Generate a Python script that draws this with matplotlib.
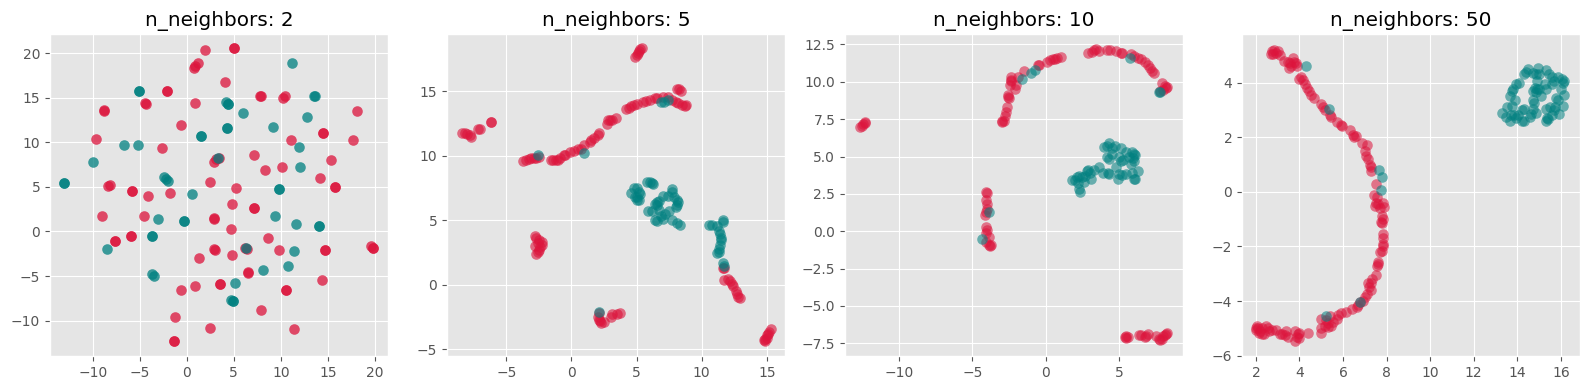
import numpy as np
import matplotlib
matplotlib.use("Agg")
import matplotlib.pyplot as plt

plt.style.use('ggplot')

titles = ['n_neighbors: 2', 'n_neighbors: 5', 'n_neighbors: 10', 'n_neighbors: 50']

# panel 1, points that look denser are listed twice
red_2 = [(1.93,20.4),(5.05,20.56),(5.05,20.56),(1.25,18.88),(0.9,18.6),(0.72,18.4),(4.02,16.8),(-2.12,15.73),(-2.12,15.73),
         (-4.39,14.4),(-4.3,14.35),(-8.83,13.6),(-8.75,13.55),(0.93,14.45),(7.8,15.25),(7.85,15.2),(10.5,15.17),(10.27,15.0),
         (18.08,13.5),(-0.63,11.95),(14.5,11.1),(14.5,11.1),(-9.6,10.37),(-2.6,9.33),(11.05,10.26),(17.65,10.3),(7.15,8.54),
         (3.38,8.3),(3.13,8.1),(2.88,7.8),(8.35,6.93),(10.16,7.23),(15.3,8.05),(14.17,6.0),(15.8,5.0),(15.8,5.0),(2.46,5.54),
         (5.2,4.87),(-8.15,5.17),(-8.33,5.05),(-5.85,4.57),(-5.85,4.57),(-4.07,3.97),(-1.76,4.27),(4.8,3.1),(7.15,2.66),(7.15,2.66),
         (-9.0,1.72),(-4.5,1.72),(2.85,1.46),(2.95,1.4),(4.66,0.26),(8.64,-0.71),(-7.59,-1.09),(-7.59,-1.09),(-5.92,-0.56),(-5.92,-0.56),
         (2.85,-1.98),(3.0,-2.13),(4.8,-2.66),(6.22,-1.87),(6.4,-2.02),(9.84,-2.1),(14.74,-2.06),(14.74,-2.06),(19.54,-1.6),(19.82,-1.8),
         (19.82,-1.8),(1.29,-3.0),(6.47,-4.6),(6.55,-4.65),(14.42,-5.5),(3.56,-5.92),(3.56,-5.92),(-0.63,-6.55),(0.83,-6.1),(10.6,-6.6),
         (10.6,-6.6),(7.85,-8.84),(-1.2,-9.63),(2.5,-10.8),(11.44,-11.0),(-1.37,-12.35),(-1.37,-12.35)]
teal_2 = [(11.2,18.88),(-5.03,15.8),(-5.03,15.8),(13.54,15.2),(13.6,15.25),(4.2,14.5),(4.41,14.35),(4.41,14.35),(6.0,13.33),(12.8,12.8),
          (9.13,11.72),(4.24,11.6),(4.24,11.6),(1.54,10.7),(1.54,10.7),(11.97,9.48),(-6.7,9.66),(-5.17,9.66),(-9.93,7.83),(3.35,8.28),
          (12.05,7.23),(-2.44,6.07),(-2.23,5.88),(-1.94,5.62),(-13.0,5.4),(-13.0,5.4),(9.8,4.72),(9.8,4.72),(0.54,4.2),(-3.08,1.42),
          (-0.27,1.2),(-0.27,1.2),(9.35,1.72),(11.65,0.79),(14.03,0.56),(14.03,0.56),(-3.65,-0.52),(-3.65,-0.52),(-8.5,-1.98),(11.4,-2.17),
          (6.3,-1.9),(8.1,-4.34),(10.73,-3.93),(-3.65,-4.8),(-3.43,-4.95),(5.12,-5.73),(4.73,-7.68),(4.87,-7.86),(4.87,-7.86)]

red_5 = [(4.9,17.7),(5.0,17.85),(5.1,18.0),(5.2,18.15),(5.3,18.25),(5.45,18.4),(-8.4,11.75),(-8.2,11.8),(-8.0,11.7),(-7.8,11.6),(-7.75,11.45),
         (-7.2,12.05),(-7.05,12.1),(-6.2,12.6),(-6.15,12.65),(-3.7,9.6),(-3.5,9.65),(-3.3,9.75),(-3.1,9.8),(-2.9,9.8),(-2.7,9.85),(-2.5,9.9),
         (-1.6,9.65),(-1.4,9.7),(-1.2,9.65),(-1.0,9.7),(-0.85,9.8),(-0.6,10.05),(-0.5,10.1),(-0.1,10.3),(0.2,10.35),(0.5,10.5),(0.7,10.55),
         (1.0,10.85),(1.4,11.1),(1.5,11.2),(1.7,11.4),(2.0,11.65),(2.1,11.8),(2.7,12.45),(2.8,12.75),(2.95,12.8),(3.1,12.75),(3.4,12.9),
         (4.2,13.6),(4.4,13.7),(4.6,13.85),(4.8,13.95),(5.0,14.0),(5.5,14.2),(5.7,14.25),(6.0,14.35),(6.4,14.5),(6.6,14.5),(7.0,14.6),
         (7.4,14.55),(7.7,14.35),(8.0,14.2),(8.2,14.1),(8.5,13.95),(8.7,13.9),(8.8,13.95),(8.1,15.2),(8.25,15.15),(8.4,15.0),
         (-2.8,3.8),(-2.75,3.6),(-2.5,3.45),(-2.3,3.3),(-2.3,3.1),(-2.8,3.0),(-2.4,2.9),(-2.5,2.7),(-2.6,2.5),(-2.7,2.4),(-2.55,3.2),
         (2.1,-2.2),(2.05,-2.5),(2.1,-2.7),(2.2,-2.85),(2.3,-2.95),(2.5,-2.9),(3.0,-2.5),(3.1,-2.3),(3.5,-2.25),(3.7,-2.2),
         (11.75,1.3),(11.6,1.3),(11.7,0.4),(12.0,0.45),(12.15,0.3),(12.3,0.05),(12.4,-0.1),(12.6,-0.45),(12.7,-0.7),(12.8,-0.95),(12.95,-1.05),
         (14.75,-4.3),(14.9,-4.35),(15.0,-4.1),(15.05,-3.9),(15.15,-3.7),(15.3,-3.45),(15.1,-3.8),(14.9,-4.2)]
teal_5 = [(-2.6,10.05),(0.95,10.25),(6.9,14.2),(7.1,14.2),(7.4,14.3),(4.6,7.1),(4.8,7.5),(5.0,7.5),(5.2,7.2),(5.3,7.0),(5.05,6.8),(4.85,6.8),
          (5.0,6.6),(5.2,6.6),(5.8,7.95),(6.0,8.0),(6.2,7.9),(6.3,7.85),(7.7,7.4),(7.7,7.2),(7.4,6.85),(7.0,6.85),(7.9,6.8),(8.1,6.6),(8.2,6.4),
          (8.0,6.0),(8.1,6.15),(6.4,6.3),(6.6,6.4),(6.6,6.2),(6.7,6.5),(5.9,5.75),(6.2,5.75),(6.7,5.8),(7.2,5.5),(7.5,5.7),(6.9,5.3),(6.4,5.0),
          (6.6,4.95),(7.0,5.1),(7.7,5.0),(8.1,4.75),(8.3,4.6),(10.6,4.6),(10.8,4.6),(11.15,4.55),(11.6,4.9),(11.65,5.0),(11.3,4.2),(11.4,3.9),
          (11.45,3.6),(11.5,3.45),(11.4,3.1),(11.35,2.8),(11.3,2.5),(11.2,2.45),(11.65,1.7),(11.7,1.45),(2.15,-2.1)]

red_10 = [(-12.65,6.95),(-12.55,7.05),(-12.45,7.15),(-12.35,7.25),(-12.3,7.3),(-3.0,7.3),(-2.95,7.35),(-2.85,7.4),(-2.8,7.7),(-2.7,8.0),(-2.65,8.3),
          (-2.6,9.0),(-2.55,9.1),(-2.5,8.95),(-2.45,9.8),(-2.4,10.1),(-2.35,10.3),(-2.4,10.05),(-2.1,9.55),(-2.0,9.8),(-1.9,10.3),(-1.5,10.7),
          (-0.55,11.1),(-0.45,11.15),(0.1,11.35),(0.3,11.45),(0.5,11.5),(0.65,11.55),(0.75,11.6),(1.05,11.65),(2.9,11.95),(3.15,12.0),(3.3,12.15),
          (3.45,12.2),(3.6,12.05),(4.2,12.15),(4.4,12.1),(4.8,12.05),(5.1,11.95),(5.2,11.95),(5.8,11.85),(6.0,11.75),(6.3,11.6),(6.5,11.5),
          (6.8,11.3),(6.95,11.1),(7.1,10.9),(7.25,10.7),(7.4,10.6),(7.9,9.95),(8.1,9.7),(8.2,9.6),(8.3,9.65),(8.0,9.45),(7.8,9.4),
          (-4.05,2.6),(-4.0,2.55),(-4.05,2.1),(-4.0,1.8),(-4.0,1.5),(-4.1,1.3),(-4.15,1.1),(-4.05,0.3),(-4.0,0.1),(-4.05,-0.1),(-3.9,-0.4),
          (-4.1,-0.7),(-3.85,-0.95),(-3.75,-0.95),(-3.8,-1.0),(5.4,-7.1),(5.5,-7.15),(5.6,-7.1),(5.5,-7.0),(6.35,-6.95),(6.5,-6.95),(6.75,-7.1),
          (6.85,-7.0),(7.0,-6.9),(7.5,-7.0),(7.7,-7.2),(7.8,-7.3),(7.9,-7.2),(8.0,-7.0),(8.2,-6.85),(8.3,-6.8),(8.1,-6.95)]
teal_10 = [(-1.65,10.2),(-1.0,10.6),(-0.7,10.8),(5.75,11.6),(7.75,9.3),(7.8,9.35),(-3.9,1.3),(-4.35,-0.55),(1.8,3.45),(2.0,3.4),(2.1,3.6),(2.3,3.7),
           (2.5,3.6),(2.2,3.2),(2.25,2.8),(2.35,2.65),(2.6,3.3),(2.7,3.7),(2.8,4.0),(2.9,4.1),(3.0,3.9),(3.1,3.5),(3.3,4.1),(3.6,4.3),(3.9,3.9),
           (4.3,3.85),(4.25,3.9),(4.8,4.3),(4.9,3.5),(5.0,3.85),(5.2,3.75),(5.5,3.8),(5.9,3.9),(6.0,3.5),(6.1,3.5),(6.3,4.0),(4.0,5.65),(4.2,5.7),
           (4.3,5.9),(4.5,5.6),(4.2,5.0),(4.5,5.2),(4.3,4.85),(4.7,5.7),(5.1,5.6),(5.0,5.0),(5.1,4.7),(5.3,4.8),(5.5,5.3),(5.7,5.0),(5.9,5.3),
           (6.0,5.2),(6.1,5.1),(6.0,4.7),(5.8,4.5),(5.95,4.9)]

red_50 = [(2.7,5.05),(2.75,5.15),(2.85,5.2),(2.9,5.1),(3.0,5.15),(2.8,5.05),(3.1,5.0),(3.3,4.8),(3.45,4.75),(3.5,4.55),(3.55,4.7),(3.6,4.6),(3.7,4.9),
          (3.75,4.75),(3.85,4.7),(3.9,4.6),(4.0,4.15),(4.05,4.2),(4.15,4.1),(4.25,3.95),(4.35,3.8),(4.45,3.7),(4.55,3.55),(4.65,3.45),(5.0,3.2),
          (5.1,3.1),(5.15,3.0),(5.4,2.8),(5.45,2.75),(5.7,2.55),(5.9,2.45),(5.95,2.4),(6.3,2.25),(6.45,2.1),(6.5,2.0),(6.6,2.05),(6.85,1.8),(7.1,1.7),
          (7.0,1.5),(7.05,1.3),(7.15,1.2),(7.25,1.0),(7.3,0.9),(7.3,0.75),(7.5,0.3),(7.4,-0.1),(7.55,-0.2),(7.5,-0.4),(7.45,-0.5),(7.6,-0.45),
          (7.7,-0.6),(7.85,-0.4),(7.9,-0.55),(7.8,-0.9),(7.85,-1.0),(7.75,-1.1),(7.8,-1.15),(7.85,-1.55),(7.85,-1.7),(7.85,-1.9),(7.85,-2.0),
          (7.8,-2.15),(7.7,-2.2),(7.6,-2.55),(7.6,-2.65),(7.55,-2.7),(7.5,-3.05),(7.35,-3.2),(7.3,-3.35),(7.15,-3.35),(7.2,-3.5),(7.3,-3.6),
          (7.1,-3.75),(7.0,-3.85),(6.9,-4.0),(6.8,-4.05),(6.7,-4.15),(6.65,-4.2),(6.4,-4.3),(6.15,-4.4),(5.9,-4.45),(5.75,-4.5),(5.7,-4.65),
          (5.55,-4.75),(5.4,-4.55),(5.3,-4.8),(5.2,-4.7),(5.0,-4.65),(5.3,-4.95),(5.15,-4.9),(5.45,-4.9),(5.0,-5.0),(5.0,-5.15),(2.0,-5.05),
          (2.05,-4.9),(2.1,-5.0),(2.2,-5.1),(2.3,-5.0),(2.35,-5.2),(2.45,-4.9),(2.55,-5.0),(2.6,-5.1),(2.75,-5.05),(2.9,-5.05),(3.1,-5.2),(3.2,-5.2),
          (3.35,-5.25),(3.4,-5.1),(3.45,-5.3),(3.8,-5.1),(3.8,-5.45),(3.9,-5.3),(3.95,-5.2),(4.0,-5.15),(4.0,-5.35),(4.4,-5.15),(2.0,-5.0),
          (2.15,-5.15),(2.3,-5.2)]
teal_50 = [(4.3,4.6),(5.35,3.05),(7.65,0.8),(7.8,0.55),(7.75,0.07),(5.2,-4.55),(6.8,-4.05),(13.3,2.9),(13.5,2.75),(13.65,2.6),(13.7,2.8),(13.85,2.8),
           (13.95,2.7),(14.05,2.8),(14.2,2.6),(14.3,2.6),(14.2,3.0),(14.3,3.05),(13.55,3.1),(13.75,3.15),(13.9,3.35),(13.65,3.5),(13.75,3.7),(13.8,3.75),
           (13.95,3.95),(14.1,4.0),(14.3,4.3),(14.4,4.4),(14.5,4.5),(14.7,4.35),(14.85,4.3),(14.95,4.55),(15.0,4.3),(15.3,4.45),(15.45,4.3),(15.6,4.2),
           (15.7,4.05),(15.6,3.95),(15.85,4.2),(16.05,4.15),(16.15,4.05),(16.1,4.0),(16.0,3.75),(15.3,3.75),(15.25,3.95),(14.9,4.05),(14.8,3.8),(14.9,3.75),
           (15.0,3.75),(14.7,3.7),(14.85,3.65),(15.1,3.5),(14.7,3.35),(14.75,3.25),(15.3,3.05),(15.8,3.45),(15.85,3.35),(16.15,3.55),(16.1,3.15),(15.75,3.1),
           (15.7,3.0),(15.5,3.1),(15.35,2.7),(15.3,2.6),(15.4,2.65),(15.6,2.8),(15.9,2.85),(14.6,2.75),(14.65,2.85),(14.85,2.9),(14.7,3.05)]

reds = [red_2, red_5, red_10, red_50]
teals = [teal_2, teal_5, teal_10, teal_50]
alphas = [0.75, 0.6, 0.55, 0.55]

xlims = [(-14.54, 21.4), (-9.56, 16.4), (-13.69, 9.36), (1.36, 16.88)]
ylims = [(-13.98, 22.17), (-5.53, 19.45), (-8.35, 13.2), (-6.01, 5.78)]
lefts = [50, 447, 845, 1242]

W, H = 1589, 390
fig = plt.figure(figsize=(W / 100, H / 100), dpi=100)

for i in range(4):
    ax = fig.add_axes([lefts[i] / W, (H - 356) / H, 338 / W, 322 / H])
    r = np.array(reds[i])
    t = np.array(teals[i])
    ax.scatter(r[:, 0], r[:, 1], s=58, c='crimson', alpha=alphas[i], linewidths=0)
    ax.scatter(t[:, 0], t[:, 1], s=58, c='teal', alpha=alphas[i], linewidths=0)
    ax.set_xlim(xlims[i])
    ax.set_ylim(ylims[i])
    ax.set_title(titles[i], color='black')

fig.savefig('out.png', dpi=100)
